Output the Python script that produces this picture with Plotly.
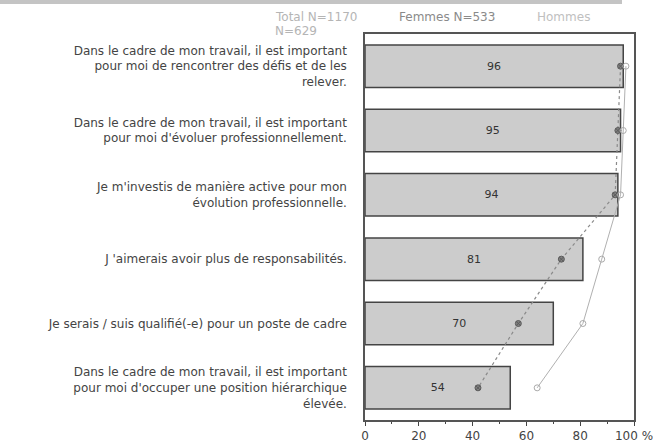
import plotly.graph_objects as go

categories = [
    "Dans le cadre de mon travail, il est important<br>pour moi de rencontrer des défis et de les<br>relever.",
    "Dans le cadre de mon travail, il est important<br>pour moi d'évoluer professionnellement.",
    "Je m'investis de manière active pour mon<br>évolution professionnelle.",
    "J 'aimerais avoir plus de responsabilités.",
    "Je serais / suis qualifié(-e) pour un poste de cadre",
    "Dans le cadre de mon travail, il est important<br>pour moi d'occuper une position hiérarchique<br>élevée.",
]
total = [96, 95, 94, 81, 70, 54]
femmes = [95, 94, 93, 73, 57, 42]
hommes = [97, 96, 95, 88, 81, 64]
xtick_vals = [0, 20, 40, 60, 80, 100]
xtick_text = ["0", "20", "40", "60", "80", "100 %"]
legend_texts = ["Total N=1170", "Femmes N=533", "Hommes", "N=629"]

ids = list(range(len(categories)))
FONT = "DejaVu Sans"

fig = go.Figure()
fig.add_trace(go.Bar(
    x=total, y=ids, orientation="h",
    marker=dict(color="#cccccc", line=dict(color="#444444", width=1.5)),
    text=[str(v) for v in total], textposition="inside", insidetextanchor="middle",
    textfont=dict(size=11, color="#333333", family=FONT),
    showlegend=False,
))
fig.add_trace(go.Scatter(
    x=femmes, y=ids, mode="lines+markers",
    line=dict(color="#8a8a8a", width=1.2, dash="dot"),
    marker=dict(symbol="circle-x", size=6, color="#808080", line=dict(color="#5a5a5a", width=1)),
    showlegend=False,
))
fig.add_trace(go.Scatter(
    x=hommes, y=ids, mode="lines+markers",
    line=dict(color="#b0b0b0", width=1),
    marker=dict(symbol="circle-open", size=6, color="#aaaaaa", line=dict(width=1)),
    showlegend=False,
))

fig.update_layout(
    width=653, height=444,
    margin=dict(l=365, r=19, t=34, b=24, autoexpand=False),
    paper_bgcolor="white", plot_bgcolor="white",
    bargap=0.34,
    font=dict(family=FONT, color="#444444"),
    xaxis=dict(
        range=[0, 100], tickvals=xtick_vals, ticktext=xtick_text,
        ticks="outside", ticklen=4, tickcolor="#444444",
        minor=dict(dtick=10, ticks="outside", ticklen=2, tickcolor="#444444"),
        showgrid=False, zeroline=False, automargin=False,
        ticklabeloverflow="allow",
        showline=True, linecolor="#555555", linewidth=1.5, mirror=True,
        tickfont=dict(size=12, color="#444444", family=FONT),
        fixedrange=True,
    ),
    yaxis=dict(
        tickvals=ids, ticktext=categories, autorange="reversed",
        range=[len(categories) - 0.5, -0.5], automargin=False,
        ticklabeloverflow="allow",
        showgrid=False, zeroline=False,
        showline=True, linecolor="#555555", linewidth=1.5, mirror=True,
        ticks="", ticklabelstandoff=14,
        tickfont=dict(size=12, color="#444444", family=FONT),
        fixedrange=True,
    ),
    shapes=[
        dict(type="rect", xref="paper", yref="paper", x0=-365/269, x1=(622-365)/269,
             y0=1 + 30/386, y1=1 + 36/386,
             line=dict(width=0), fillcolor="#c4c4c4", layer="above"),
    ],
    annotations=[
        dict(text=legend_texts[0], xref="paper", yref="paper", x=(273-365)/269, y=1 + 17/386,
             xanchor="left", yanchor="middle", showarrow=False,
             font=dict(size=12, color="#b5b5b5", family=FONT)),
        dict(text=legend_texts[1], xref="paper", yref="paper", x=(397-365)/269, y=1 + 17/386,
             xanchor="left", yanchor="middle", showarrow=False,
             font=dict(size=12, color="#8a8a8a", family=FONT)),
        dict(text=legend_texts[2], xref="paper", yref="paper", x=(535-365)/269, y=1 + 17/386,
             xanchor="left", yanchor="middle", showarrow=False,
             font=dict(size=12, color="#c0c0c0", family=FONT)),
        dict(text=legend_texts[3], xref="paper", yref="paper", x=(273-365)/269, y=1 + 3/386,
             xanchor="left", yanchor="middle", showarrow=False,
             font=dict(size=12, color="#b5b5b5", family=FONT)),
    ],
)

fig.write_html("out.html")
